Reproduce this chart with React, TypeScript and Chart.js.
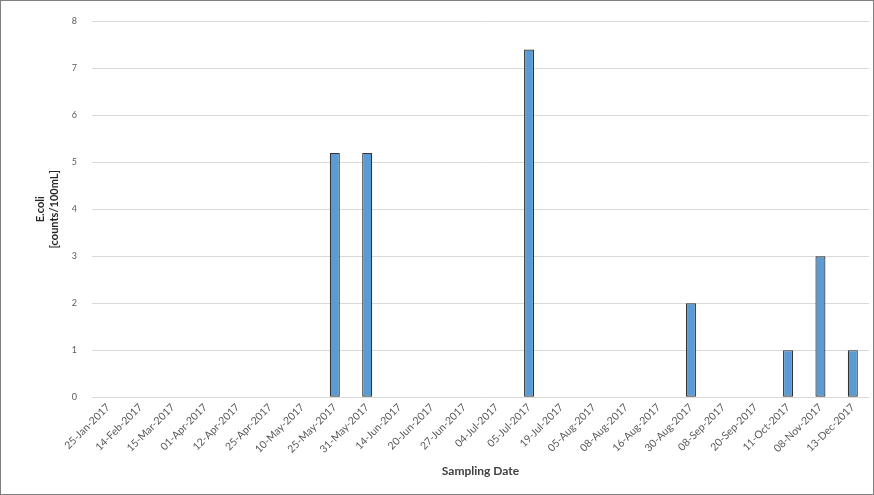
import React, { useEffect, useRef } from "react";
import { Chart, registerables } from "chart.js";

Chart.register(...registerables);

const categories = [
  "25-Jan-2017", "14-Feb-2017", "15-Mar-2017", "01-Apr-2017", "12-Apr-2017",
  "25-Apr-2017", "10-May-2017", "25-May-2017", "31-May-2017", "14-Jun-2017",
  "20-Jun-2017", "27-Jun-2017", "04-Jul-2017", "05-Jul-2017", "19-Jul-2017",
  "05-Aug-2017", "08-Aug-2017", "16-Aug-2017", "30-Aug-2017", "08-Sep-2017",
  "20-Sep-2017", "11-Oct-2017", "08-Nov-2017", "13-Dec-2017",
];

const ecoliValues: (number | null)[] = [
  null, null, null, null, null,
  null, null, 5.2, 5.2, null,
  null, null, null, 7.4, null,
  null, null, null, 2, null,
  null, 1, 3, 1,
];

const yTitle = ["E.coli", "[counts/100mL]"];
const xTitle = "Sampling Date";

export default function App() {
  const ref = useRef<HTMLCanvasElement>(null);
  useEffect(() => {
    if (!ref.current) return;
    const chart = new Chart(ref.current, {
      type: "bar",
      data: {
        labels: categories,
        datasets: [
          {
            label: "E.coli",
            data: ecoliValues,
            backgroundColor: "#5b9bd5",
            borderColor: "#333333",
            borderWidth: 1.2,
            borderSkipped: false,
            barPercentage: 0.31,
            categoryPercentage: 1,
          },
        ],
      },
      options: {
        animation: false,
        responsive: false,
        maintainAspectRatio: false,
        layout: { padding: { left: 32, right: 4, top: 13, bottom: 16 } },
        plugins: { legend: { display: false }, tooltip: { enabled: false } },
        scales: {
          x: {
            grid: { display: false, drawTicks: false },
            border: { display: false },
            ticks: {
              color: "#595959",
              font: { family: "Lato", size: 10.5 },
              maxRotation: 45,
              minRotation: 45,
              autoSkip: false,
              padding: 4,
            },
            title: {
              display: true,
              text: xTitle,
              color: "#404040",
              font: { family: "Lato", size: 12, weight: "bold" },
              padding: { top: 4, bottom: 0 },
            },
          },
          y: {
            min: 0,
            max: 8,
            afterFit: (scale: any) => {
              scale.width = 59;
            },
            ticks: {
              stepSize: 1,
              color: "#595959",
              font: { family: "Lato", size: 9 },
              padding: 15,
            },
            grid: { color: "#d9d9d9", drawTicks: false },
            border: { display: false },
            title: {
              display: true,
              text: yTitle,
              color: "#262626",
              font: { family: "Lato", size: 11, weight: "bold", lineHeight: 1.3 },
              padding: { top: 0, bottom: 8 },
            },
          },
        },
      },
    });
    return () => chart.destroy();
  }, []);
  return (
    <div
      style={{
        position: "absolute",
        left: 0,
        top: 0,
        width: 874,
        height: 495,
        boxSizing: "border-box",
        border: "1px solid #808080",
        background: "#fff",
      }}
    >
      <canvas ref={ref} width={872} height={493} style={{ display: "block" }} />
    </div>
  );
}
